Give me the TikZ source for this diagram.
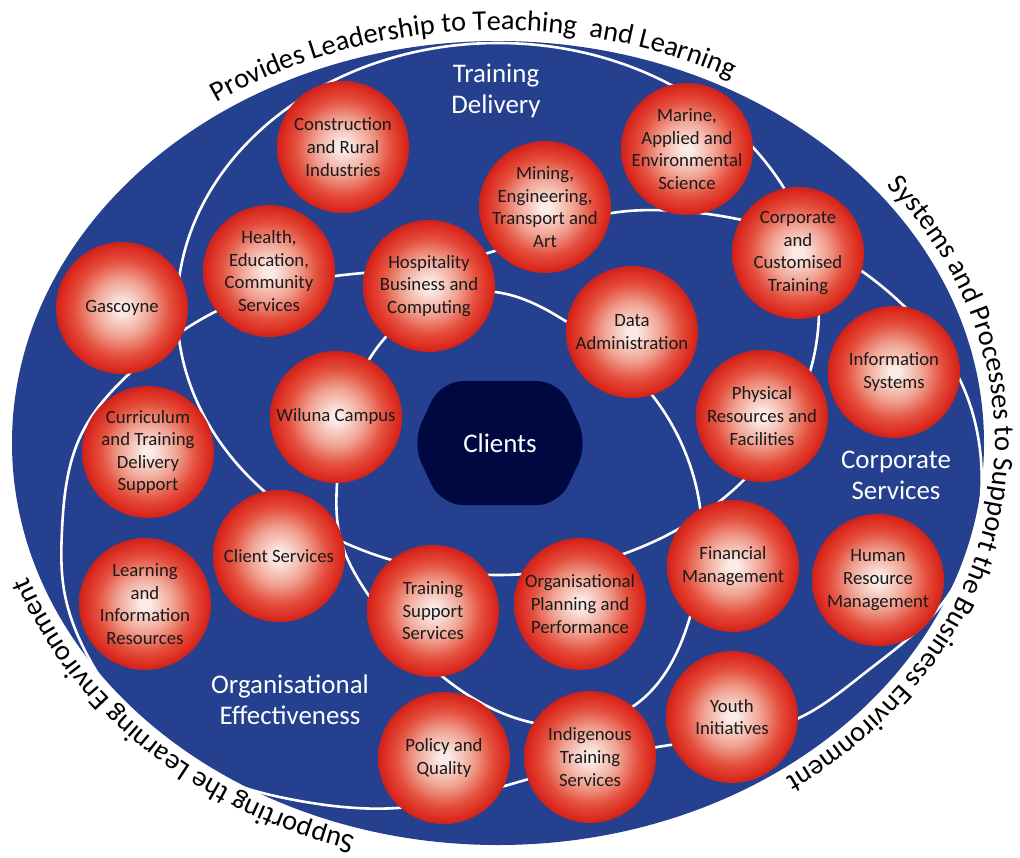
\documentclass[tikz,border=0pt]{standalone}
\usepackage{fontspec}
\setmainfont{Carlito}
\usetikzlibrary{decorations.text,hobby}
\definecolor{blueback}{HTML}{24408F}
\definecolor{clientc}{HTML}{000842}
\definecolor{textc}{HTML}{1A1A1A}
\definecolor{bcA}{HTML}{FBEBE6}
\definecolor{bcB}{HTML}{F0A090}
\definecolor{bcC}{HTML}{E5503E}
\definecolor{bcD}{HTML}{DC2C20}
\definecolor{bcE}{HTML}{CC221B}
\pgfdeclareradialshading{myball}{\pgfpoint{0bp}{0bp}}{color(0bp)=(bcA); color(2bp)=(bcA); color(11bp)=(bcB); color(18bp)=(bcC); color(23bp)=(bcD); color(25bp)=(bcE); color(50bp)=(bcE)}
\newcommand\ballfont{\fontsize{18.8}{22.7}\selectfont}
\newcommand\bigfont{\fontsize{27}{31}\selectfont}
\newcommand\curvefont{\fontsize{28.5}{30}\selectfont}
\newcommand\ballnode[3]{\node[ball] (#1) at (#2) {}; \node[balltext] (#1-t) at (#1) {#3};}
\begin{document}
\begin{tikzpicture}[x=1bp,y=-1bp,
  ball/.style={circle, minimum size=132bp, inner sep=0pt, shade, shading=myball},
  balltext/.style={align=center, text=textc, font=\ballfont, inner sep=0pt},
  biglabel/.style={align=center, text=white, font=\bigfont, inner sep=0pt},
  wline/.style={draw=white, line width=2.6bp},
  curvetext/.style={decorate, decoration={text along path, text={#1}}}]
\useasboundingbox (0,0) rectangle (1020,858);
\fill[white] (0,0) rectangle (1020,858);
\fill[blueback] (498,443) ellipse [x radius=486, y radius=402];
% Training Delivery loop
\draw[wline] (498,309) ellipse [x radius=321, y radius=266];
% Outer (corporate / organisational) loop
\draw[wline] plot[closed hobby] coordinates {
 (488,253) (612,213) (677,211) (742,220) (863,272) (905,307) (960,380)
 (980,450) (976,530) (945,600) (866,672) (801,717) (670,745) (515,783)
 (397,808) (300,801) (215,777) (140,727) (91,662) (64,590) (62,530)
 (82,433) (130,373) (200,320) (335,276) (363,273)};
% Inner client loop
\draw[wline] plot[closed hobby] coordinates {
 (495,292) (567,322) (652,395) (690,465) (700,507) (690,617) (635,705)
 (534,723) (443,677) (367,593) (340,537) (337,483) (370,358)};
% Clients
\fill[clientc, rounded corners=22bp] (441,381) -- (559,381) -- (588,443) -- (559,505) -- (441,505) -- (412,443) -- cycle;
\node[biglabel] (clients) at (500,443) {Clients};
% balls
\ballnode{cons}{343,147}{Construction\\and Rural\\Industries}
\ballnode{marine}{687,149}{Marine,\\Applied and\\Environmental\\Science}
\ballnode{mining}{545,207}{Mining,\\Engineering,\\Transport and\\Art}
\ballnode{corp}{798,253}{Corporate\\and\\Customised\\Training}
\ballnode{health}{269,271}{Health,\\Education,\\Community\\Services}
\ballnode{hosp}{429,286}{Hospitality\\Business and\\Computing}
\ballnode{gasc}{122,308}{Gascoyne}
\ballnode{data}{632,332}{Data\\Administration}
\ballnode{wiluna}{336,417}{Wiluna Campus}
\ballnode{phys}{762,416}{Physical\\Resources and\\Facilities}
\ballnode{info}{894,372}{Information\\Systems}
\ballnode{curr}{148,452}{Curriculum\\and Training\\Delivery\\Support}
\ballnode{client}{279,556}{Client Services}
\ballnode{learn}{145,604}{Learning\\and\\Information\\Resources}
\ballnode{tss}{433,611}{Training\\Support\\Services}
\ballnode{opp}{580,604}{Organisational\\Planning and\\Performance}
\ballnode{fin}{733,566}{Financial\\Management}
\ballnode{hrm}{878,580}{Human\\Resource\\Management}
\ballnode{youth}{732,717}{Youth\\Initiatives}
\ballnode{indig}{590,757}{Indigenous\\Training\\Services}
\ballnode{policy}{444,758}{Policy and\\Quality}
% area labels
\node[biglabel] (tdlab) at (496,91) {Training\\Delivery};
\node[biglabel] (cslab) at (896,475) {Corporate\\Services};
\node[biglabel] (oelab) at (290,700) {Organisational\\Effectiveness};
% curved texts
\path[curvetext={|\curvefont|Provides Leadership to Teaching {\ }and Learning}]
  plot[domain=-124.5:-30, samples=140, variable=\t] ({498+497*cos(\t)},{442+412*sin(\t)});
\path[curvetext={|\curvefont|Systems and Processes to Support the Business Environment}]
  plot[domain=-38.5:80, samples=160, variable=\t] ({498+497*cos(\t)},{442+412*sin(\t)});
\path[curvetext={|\curvefont|Supporting the Learning Environment}]
  plot[domain=106.7:200, samples=140, variable=\t] ({498+497*cos(\t)},{442+412*sin(\t)});
\end{tikzpicture}
\end{document}
